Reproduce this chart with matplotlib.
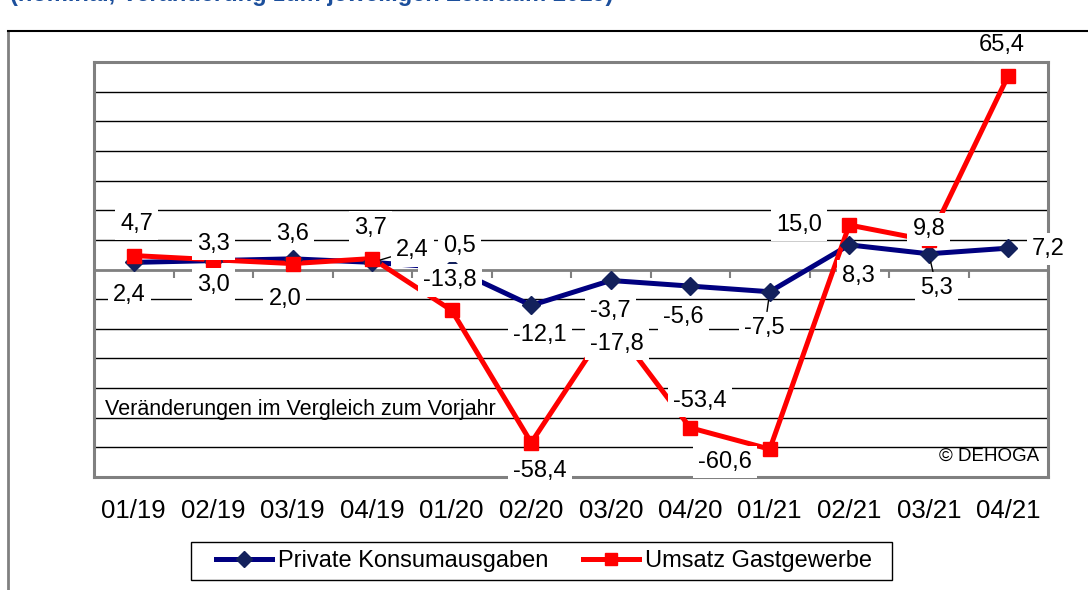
import matplotlib
matplotlib.use("Agg")
import matplotlib.pyplot as plt
from matplotlib.lines import Line2D
from matplotlib.patches import Rectangle
import numpy as np

plt.rcParams['font.family'] = ['Liberation Sans', 'DejaVu Sans']

# ---------------- data ----------------
categories = ["01/19", "02/19", "03/19", "04/19", "01/20", "02/20",
              "03/20", "04/20", "01/21", "02/21", "03/21", "04/21"]
konsum = [2.4, 3.0, 3.6, 2.4, 0.5, -12.1, -3.7, -5.6, -7.5, 8.3, 5.3, 7.2]
gastgewerbe = [4.7, 3.3, 2.0, 3.7, -13.8, -58.4, -17.8, -53.4, -60.6, 15.0, 9.8, 65.4]
series_names = ["Private Konsumausgaben", "Umsatz Gastgewerbe"]

# label offsets in pixels (dx right, dy up)
konsum_off = [(-4, -33), (0, -24), (0, 25), (40, 12), (8, 22), (9, -30),
              (0, -31), (-7, -31), (-5, -36), (9, -31), (8, -34), (40, -1)]
gast_off = [(3, 32), (0, 16), (-8, -35), (-2, 31), (-2, 30), (9, -28),
            (6, -22), (10, 27), (-45, -13), (-50, 0), (0, 11), (-6, 31)]
konsum_leader = [3, 8, 10]

BLUE_LINE = "#000080"
BLUE_MARK = "#13215c"
RED = "#ff0000"
GRAY = "#808080"

W, H = 1088, 590
fig = plt.figure(figsize=(W / 100, H / 100), dpi=100)
ax = fig.add_axes([94 / W, 1 - 477 / H, (1048 - 94) / W, (477 - 62) / H])

x = np.arange(len(categories))
ax.set_xlim(-0.5, len(categories) - 0.5)
ax.set_ylim(-70, 70)

# gridlines
for g in np.arange(-60, 61, 10):
    if g != 0:
        ax.axhline(g, color="black", lw=1.0, zorder=1)
ax.axhline(0, color=GRAY, lw=2.0, zorder=2)
ax.vlines(np.arange(-0.5, len(categories)), -2.7, 0, color=GRAY, lw=1.5, zorder=2)

# series
ax.plot(x, konsum, color=BLUE_LINE, lw=3.6, zorder=3, solid_joinstyle="miter")
ax.plot(x, gastgewerbe, color=RED, lw=3.6, zorder=4, solid_joinstyle="miter")
ax.plot(x, konsum, ls="none", marker="D", ms=9.5, mfc=BLUE_MARK, mec=BLUE_MARK, zorder=5)
ax.plot(x, gastgewerbe, ls="none", marker="s", ms=9.5, mfc=RED, mec=RED, zorder=6)

def fmt(v):
    return f"{v:.1f}".replace(".", ",")

bbox = dict(boxstyle="square,pad=0.22", fc="white", ec="none")
for i, v in enumerate(konsum):
    dx, dy = konsum_off[i]
    kw = {}
    if i in konsum_leader:
        kw["arrowprops"] = dict(arrowstyle="-", color="black", lw=1.0,
                                shrinkA=0, shrinkB=6)
    t = ax.annotate(fmt(v), (x[i], v), xytext=(dx, dy), textcoords="offset pixels",
                    ha="center", va="center", fontsize=17, bbox=bbox, zorder=10,
                    annotation_clip=False, **kw)
for i, v in enumerate(gastgewerbe):
    dx, dy = gast_off[i]
    ax.annotate(fmt(v), (x[i], v), xytext=(dx, dy), textcoords="offset pixels",
                ha="center", va="center", fontsize=17, bbox=bbox, zorder=10,
                annotation_clip=False)

ax.text(0.012, 0.162, "Veränderungen im Vergleich zum Vorjahr", transform=ax.transAxes,
        fontsize=15.5, ha="left", va="center", zorder=7)
ax.text(0.9905, 0.05, "© DEHOGA", transform=ax.transAxes,
        fontsize=13.5, ha="right", va="center", zorder=7)

ax.set_yticks([])
ax.set_xticks(x)
ax.set_xticklabels(categories, fontsize=18.5)
ax.tick_params(axis="x", length=0, pad=16)
for s in ax.spines.values():
    s.set_color(GRAY)
    s.set_linewidth(2.2)
    s.set_zorder(9)

# legend (frame drawn separately)
fig.add_artist(Rectangle((191 / W, 1 - 580 / H), (892 - 191) / W, 38 / H,
                         transform=fig.transFigure, fc="white", ec="black", lw=1.0))
handles = [Line2D([], [], color=BLUE_LINE, lw=3.6, marker="D", ms=8, mfc=BLUE_MARK, mec=BLUE_MARK),
           Line2D([], [], color=RED, lw=3.6, marker="s", ms=8.5, mfc=RED, mec=RED)]
leg = fig.legend(handles, series_names, loc="center",
                 bbox_to_anchor=(544 / W, 1 - 561 / H), ncol=2, fontsize=17,
                 frameon=False, handlelength=2.35,
                 handletextpad=0.25, columnspacing=1.5, borderpad=0.2, borderaxespad=0)

# outer chart border
fig.add_artist(Line2D([8 / W, 8 / W], [0, 1 - 31 / H], transform=fig.transFigure,
                      color=GRAY, lw=2))
fig.add_artist(Line2D([8 / W, 1], [1 - 31 / H, 1 - 31 / H], transform=fig.transFigure,
                      color="black", lw=1.5))

# cut-off title at the very top
fig.text(10 / W, 1 - 1.5 / H, "(nominal, Veränderung zum jeweiligen Zeitraum 2019)",
         fontsize=17, fontweight="bold", color="#1c4f9c", ha="left", va="baseline")

fig.savefig("out.png", dpi=100)
